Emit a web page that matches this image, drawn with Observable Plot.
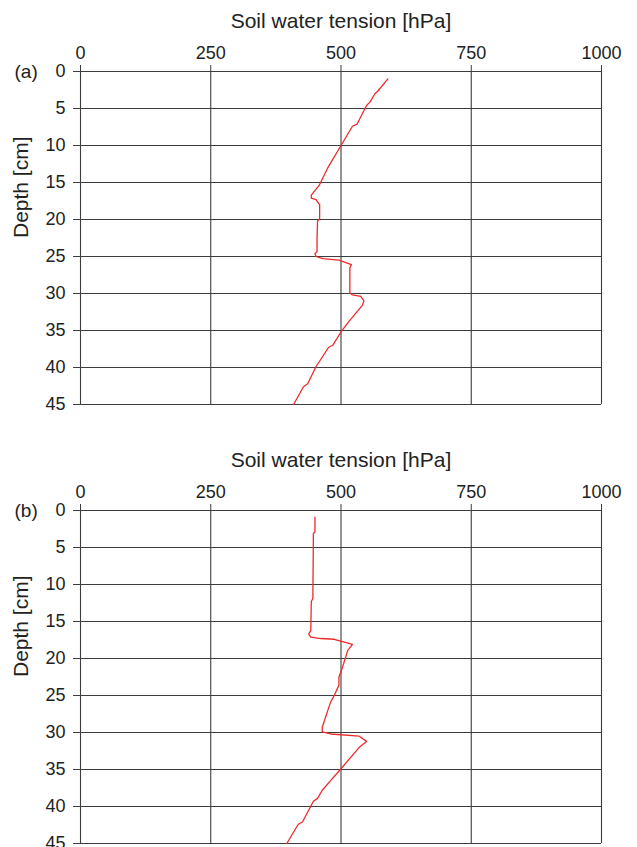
<!DOCTYPE html>
<html>
<head>
<meta charset="utf-8">
<script src="https://cdn.jsdelivr.net/npm/d3@7"></script>
<script src="https://cdn.jsdelivr.net/npm/@observablehq/plot@0.6"></script>
<style>
  html, body { margin: 0; padding: 0; background: #fff; }
  #chart svg { display: block; }
</style>
</head>
<body>
<div id="chart"></div>
<script>
// Tick values
const tensionTicks = [0, 250, 500, 750, 1000];
const depthTicks = [0, 5, 10, 15, 20, 25, 30, 35, 40, 45];
const xTitle = "Soil water tension [hPa]";
const yTitle = "Depth [cm]";
const panelLabels = ["(a)", "(b)"];

// Panel (a) profile
const depthA = [1.0, 2.7, 3.0, 4.1, 4.6, 7.1, 7.4, 10.0, 13.1, 15.4, 16.7, 17.1, 17.3, 18.0, 19.9, 20.2, 22.8, 24.4, 24.6, 25.0, 25.3, 25.5, 26.1, 26.5, 29.9, 30.2, 30.4, 31.0, 31.6, 33.8, 35.2, 37.0, 37.3, 39.9, 42.2, 42.6, 45.0];
const tensionA = [590, 570, 565, 556, 549, 531, 522, 500, 474, 458, 443, 443, 452, 459, 459, 455, 454, 454, 450, 452, 465, 496, 520, 517, 517, 522, 538, 544, 541, 515, 500, 484, 476, 452, 436, 428, 409];

// Panel (b) profile
const depthB = [0.9, 2.9, 3.1, 11.9, 12.3, 16.2, 16.7, 17.1, 17.3, 17.4, 18.1, 18.9, 21.6, 22.5, 23.6, 25.0, 25.9, 29.3, 29.9, 30.2, 30.5, 31.2, 32.0, 34.9, 36.5, 37.8, 38.9, 39.3, 42.1, 42.4, 45.0];
const tensionB = [450, 450, 447, 446, 443, 442, 438, 442, 461, 487, 522, 513, 501, 496, 496, 487, 480, 464, 464, 480, 535, 549, 535, 500, 480, 464, 455, 447, 426, 418, 396];

const font = "'Liberation Sans', Arial, Helvetica, sans-serif";
const gridColor = "#3c3c3c";

function panel(depth, tension, label, height, marginBottom) {
  const data = depth.map((d, i) => ({d, t: tension[i]}));
  return Plot.plot({
    width: 637,
    height,
    marginLeft: 80,
    marginRight: 36,
    marginTop: 71,
    marginBottom,
    style: {fontFamily: font, fontSize: "17px", color: "#222", background: "#fff"},
    x: {domain: [0, 1000]},
    y: {domain: [0, 45], reverse: true},
    marks: [
      Plot.ruleY(depthTicks, {stroke: gridColor, strokeWidth: 1.1}),
      Plot.ruleX(tensionTicks, {stroke: gridColor, strokeWidth: 1.1}),
      Plot.axisX({anchor: "top", ticks: tensionTicks, tickSize: 7, tickPadding: 6, tickFormat: d3.format("d"), fontSize: 18, label: null, stroke: gridColor}),
      Plot.axisY({anchor: "left", ticks: depthTicks, tickSize: 7, tickPadding: 8, tickFormat: d3.format("d"), fontSize: 18, label: null, stroke: gridColor}),
      Plot.text([xTitle], {frameAnchor: "top", lineAnchor: "middle", dy: -50, fontSize: 21, fill: "#222"}),
      Plot.text([yTitle], {frameAnchor: "left", lineAnchor: "middle", dx: -59, rotate: -90, fontSize: 21, fill: "#222"}),
      Plot.text([label], {frameAnchor: "top-left", lineAnchor: "middle", dx: -66, textAnchor: "start", fontSize: 19, fill: "#222"}),
      Plot.line(data, {x: "t", y: "d", stroke: "#ee2a2a", strokeWidth: 1.3})
    ]
  });
}

const root = document.getElementById("chart");
root.appendChild(panel(depthA, tensionA, panelLabels[0], 439, 35));
root.appendChild(panel(depthB, tensionB, panelLabels[1], 408, 4));
</script>
</body>
</html>
